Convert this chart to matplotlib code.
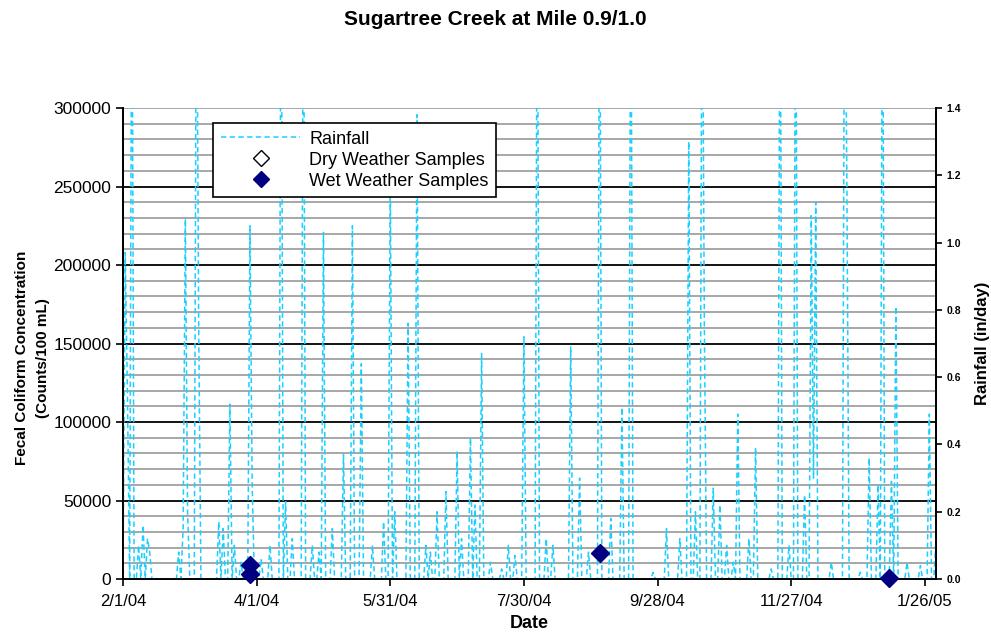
import numpy as np
import pandas as pd
import matplotlib
matplotlib.use("Agg")
import matplotlib.pyplot as plt
from matplotlib.lines import Line2D

plt.rcParams['font.family'] = ['Liberation Sans', 'DejaVu Sans']

# daily rainfall (in/day), day offset from 2/1/04 -> value; other days dry
rain_day = [1, 2, 4, 7, 9, 11, 12, 25, 27, 28, 29, 33, 34, 43, 45, 48, 50, 53,
            57, 58, 62, 66, 71, 73, 76, 81, 85, 88, 90, 94, 99, 103, 107, 112,
            117, 120, 122, 128, 132, 136, 138, 141, 145, 150, 152, 156, 158,
            161, 165, 170, 173, 176, 180, 186, 190, 193, 201, 205, 209, 214,
            219, 224, 228, 238, 244, 250, 254, 257, 260, 261, 265, 268, 271,
            274, 276, 281, 284, 291, 295, 299, 302, 306, 309, 310, 311, 318,
            324, 325, 331, 335, 339, 341, 345, 347, 352, 358, 362, 365]
rain_val = [0.97, 0.55, 2.0, 0.1, 0.16, 0.12, 0.08, 0.08, 0.15, 1.07, 0.2, 2.0,
            0.74, 0.17, 0.15, 0.52, 0.1, 0.05,
            1.05, 0.28, 0.06, 0.1, 2.0, 0.23, 0.12, 2.0, 0.1, 0.08, 1.03, 0.15,
            0.37, 1.05, 0.64, 0.1,
            0.17, 1.2, 0.2, 0.76, 1.38, 0.1, 0.08, 0.2, 0.26, 0.38, 0.12, 0.42,
            0.22, 0.67, 0.05, 0.03, 0.1, 0.07, 0.72, 2.0, 0.12, 0.1, 0.69, 0.30,
            0.08, 2.0,
            0.18, 0.51, 2.0, 0.02, 0.15, 0.12, 1.30, 0.2, 2.0, 0.76, 0.27, 0.22,
            0.1, 0.05, 0.49, 0.12, 0.39, 0.03, 2.0, 0.1, 2.0, 0.25, 1.08, 0.3,
            1.12, 0.05, 2.0, 1.17, 0.02, 0.36, 0.28, 2.0, 0.29, 0.81, 0.05, 0.04,
            0.49, 0.12]

wet_dates = ["2004-03-29", "2004-03-29", "2004-09-02", "2005-01-10"]
wet_conc = [8900, 3200, 16500, 800]
dry_dates = []
dry_conc = []

dates = pd.date_range("2004-02-01", "2005-01-31", freq="D")
rain = np.zeros(len(dates))
rain[rain_day] = rain_val

tick_dates = pd.date_range("2004-02-01", periods=7, freq="60D")
tick_labels = [f"{d.month}/{d.day}/{d:%y}" for d in tick_dates]

fig = plt.figure(figsize=(9.91, 6.43), dpi=100)
ax = fig.add_axes([0.1241, 0.0995, 0.8204, 0.7325])
ax2 = ax.twinx()

ax.set_xlim(dates[0], dates[-1])
ax.set_ylim(0, 300000)
ax2.set_ylim(0, 1.4)

# gridlines on the left axis
for v in np.arange(10000, 300001, 10000):
    major = v % 50000 == 0 and v < 300000
    ax.axhline(v, color='black' if major else '#a0a0a0', lw=1.3, zorder=0)

rain_color = '#1ccfff'
ax2.plot(dates, rain, color=rain_color, lw=1.1, dashes=(3.5, 2.2), zorder=2)

ax2.plot(pd.to_datetime(wet_dates), wet_conc, linestyle='none', marker='D',
         markersize=9, color='#000080', transform=ax.transData, zorder=5,
         clip_on=False)
ax2.plot(pd.to_datetime(dry_dates), dry_conc, linestyle='none', marker='D',
         markersize=9, markerfacecolor='white', markeredgecolor='black',
         transform=ax.transData, zorder=5)

ax.set_yticks(np.arange(0, 300001, 50000))
ax.set_yticklabels([str(v) for v in range(0, 300001, 50000)], fontsize=12.5)
ax.set_xticks(tick_dates)
ax.set_xticklabels(tick_labels, fontsize=12)
ax.tick_params(axis='both', direction='out', length=5, width=1.2, colors='black')
ax.tick_params(axis='x', pad=6)

ax2.set_yticks(np.arange(0, 1.41, 0.2))
ax2.set_yticklabels([f"{v:.1f}" for v in np.arange(0, 1.41, 0.2)],
                    fontsize=7.5, fontweight='bold')
ax2.tick_params(axis='y', direction='out', length=4, width=1.2)

for a in (ax, ax2):
    a.spines['top'].set_visible(False)
    for s in ('left', 'right', 'bottom'):
        a.spines[s].set_linewidth(1.3)

ax.set_ylabel("Fecal Coliform Concentration\n(Counts/100 mL)", fontsize=11,
              fontweight='bold', labelpad=7, linespacing=1.6)
ax.yaxis.set_label_coords(-0.09, 0.47)
ax2.set_ylabel("Rainfall (in/day)", fontsize=12, fontweight='bold', labelpad=10)
ax.set_xlabel("Date", fontsize=13, fontweight='bold', labelpad=4)
fig.suptitle("Sugartree Creek at Mile 0.9/1.0", fontsize=15, fontweight='bold',
             y=0.985)

handles = [
    Line2D([], [], color=rain_color, lw=1.1, dashes=(3.5, 2.2)),
    Line2D([], [], linestyle='none', marker='D', markersize=8,
           markerfacecolor='white', markeredgecolor='black'),
    Line2D([], [], linestyle='none', marker='D', markersize=8, color='#000080'),
]
leg = ax2.legend(handles, ["Rainfall", "Dry Weather Samples", "Wet Weather Samples"],
                 loc='upper left', bbox_to_anchor=(0.111, 0.968), fontsize=13,
                 frameon=True, fancybox=False, framealpha=1, edgecolor='black',
                 borderpad=0.42, labelspacing=0.22, handlelength=4.4,
                 handletextpad=0.5, borderaxespad=0)
leg.get_frame().set_linewidth(1.2)
leg.set_zorder(10)

fig.savefig("out.png", dpi=100)
